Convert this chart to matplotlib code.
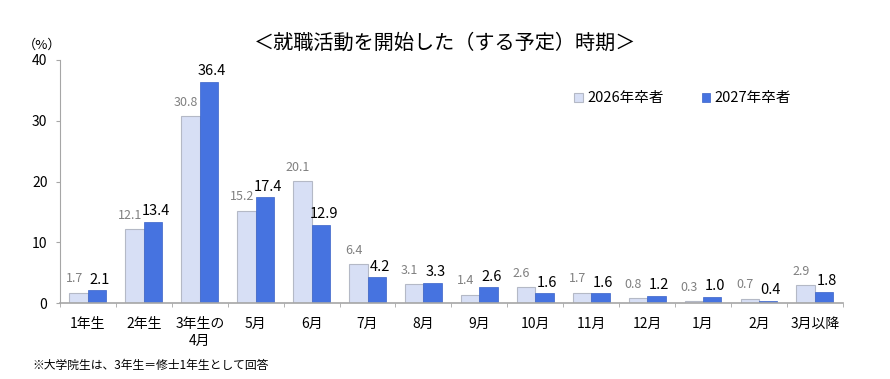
import numpy as np
import matplotlib.pyplot as plt

plt.rcParams['font.family'] = ['Noto Sans CJK JP', 'DejaVu Sans']

# ---- data ----
categories = ["1年生", "2年生", "3年生の\n4月", "5月", "6月", "7月", "8月",
              "9月", "10月", "11月", "12月", "1月", "2月", "3月以降"]
grad_2026 = [1.7, 12.1, 30.8, 15.2, 20.1, 6.4, 3.1, 1.4, 2.6, 1.7, 0.8, 0.3, 0.7, 2.9]
grad_2027 = [2.1, 13.4, 36.4, 17.4, 12.9, 4.2, 3.3, 2.6, 1.6, 1.6, 1.2, 1.0, 0.4, 1.8]
series_names = ["2026年卒者", "2027年卒者"]
yticks = [0, 10, 20, 30, 40]

LIGHT = "#D7DFF5"
DARK = "#4673E0"
AXIS = "#A6A6A6"

fig = plt.figure(figsize=(8.9, 3.79), dpi=100)
ax = fig.add_axes([0.0674, 0.2005, 0.8796, 0.6412])

x = np.arange(len(categories))
w = 0.33
ax.bar(x - w / 2, grad_2026, width=w, color=LIGHT, edgecolor="#B4B9C6",
       linewidth=0.8, label=series_names[0])
ax.bar(x + w / 2, grad_2027, width=w, color=DARK, edgecolor="#3A63C8",
       linewidth=0.5, label=series_names[1])

for xi, v in zip(x, grad_2026):
    ax.text(xi - w / 2 - 0.08, v + 1.2, f"{v:.1f}", ha="center", va="bottom",
            fontsize=9, color="#808080")
for xi, v in zip(x, grad_2027):
    ax.text(xi + w / 2 + 0.05, v + 0.6, f"{v:.1f}", ha="center", va="bottom",
            fontsize=10.5, color="black")

ax.set_xlim(-0.5, len(categories) - 0.5)
ax.set_ylim(0, 40)
ax.set_yticks(yticks)
ax.set_yticklabels([str(t) for t in yticks], fontsize=10)
ax.set_xticks(x)
ax.set_xticklabels(categories, fontsize=10, linespacing=1.3)
ax.tick_params(axis="x", length=0, pad=10)
ax.tick_params(axis="y", length=3, color=AXIS, pad=6)
# boundary ticks between categories
ax.set_xticks(np.arange(-0.5, len(categories) + 0.5, 1), minor=True)
ax.tick_params(axis="x", which="minor", length=3, color=AXIS)

for s in ["top", "right"]:
    ax.spines[s].set_visible(False)
ax.spines["left"].set_color(AXIS)
ax.spines["bottom"].set_color(AXIS)
ax.spines["left"].set_linewidth(0.8)
ax.spines["bottom"].set_linewidth(1.2)

leg = ax.legend(loc="upper left", bbox_to_anchor=(0.64, 0.925), ncol=2,
                frameon=False, fontsize=10.5, handlelength=0.6, handleheight=0.6,
                handletextpad=0.3, columnspacing=2.6)

fig.text(0.5, 0.885, "＜就職活動を開始した（する予定）時期＞", ha="center",
         va="center", fontsize=14.5)
fig.text(0.047, 0.88, "（%）", ha="center", va="center", fontsize=9.5)
fig.text(0.036, 0.035, "※大学院生は、3年生＝修士1年生として回答", ha="left",
         va="center", fontsize=8.5)

fig.savefig("out.png", dpi=100)
